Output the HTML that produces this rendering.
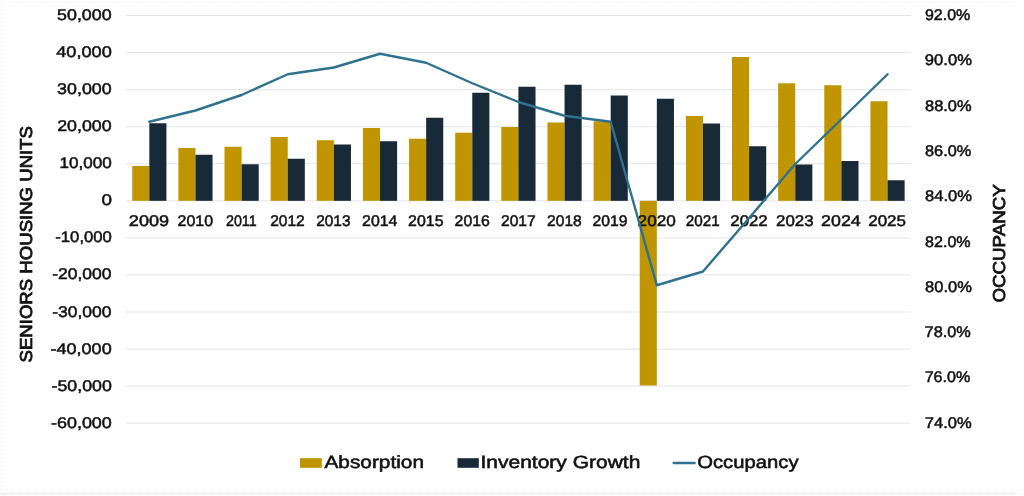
<!DOCTYPE html>
<html lang="en"><head><meta charset="utf-8"><title>Seniors Housing Units and Occupancy</title>
<style>
html,body{margin:0;padding:0;background:#fff;}
body{width:1024px;height:496px;overflow:hidden;}
svg{display:block;}
text{font-family:"Liberation Sans",sans-serif;fill:#111111;stroke:#111111;text-rendering:geometricPrecision;}
</style></head><body>
<svg width="1024" height="496" viewBox="0 0 1024 496">
<rect x="0" y="0" width="1024" height="496" fill="#ffffff"/>
<g fill="none" stroke-width="1">
<line x1="1.5" y1="1" x2="1.5" y2="493" stroke="#f0f0f0" stroke-dasharray="2 2"/>
<line x1="1" y1="493.5" x2="1021" y2="493.5" stroke="#dddddd" stroke-dasharray="1 1"/>
<line x1="1" y1="1.5" x2="1021" y2="1.5" stroke="#f5f5f5" stroke-dasharray="1.5 1.5"/>
</g>
<g stroke="#e5e5e5" stroke-width="1">
<line x1="126.25" y1="15.50" x2="910.60" y2="15.50"/>
<line x1="126.25" y1="52.56" x2="910.60" y2="52.56"/>
<line x1="126.25" y1="89.63" x2="910.60" y2="89.63"/>
<line x1="126.25" y1="126.69" x2="910.60" y2="126.69"/>
<line x1="126.25" y1="163.75" x2="910.60" y2="163.75"/>
<line x1="126.25" y1="200.82" x2="910.60" y2="200.82"/>
<line x1="126.25" y1="237.88" x2="910.60" y2="237.88"/>
<line x1="126.25" y1="274.95" x2="910.60" y2="274.95"/>
<line x1="126.25" y1="312.01" x2="910.60" y2="312.01"/>
<line x1="126.25" y1="349.07" x2="910.60" y2="349.07"/>
<line x1="126.25" y1="386.14" x2="910.60" y2="386.14"/>
<line x1="126.25" y1="423.20" x2="910.60" y2="423.20"/>
</g>
<g>
<rect x="132.22" y="166.00" width="17.10" height="34.82" fill="#C19500"/>
<rect x="149.32" y="123.25" width="17.10" height="77.57" fill="#182938"/>
<rect x="178.36" y="148.00" width="17.10" height="52.82" fill="#C19500"/>
<rect x="195.46" y="154.75" width="17.10" height="46.07" fill="#182938"/>
<rect x="224.50" y="146.75" width="17.10" height="54.07" fill="#C19500"/>
<rect x="241.60" y="164.25" width="17.10" height="36.57" fill="#182938"/>
<rect x="270.63" y="137.00" width="17.10" height="63.82" fill="#C19500"/>
<rect x="287.73" y="158.75" width="17.10" height="42.07" fill="#182938"/>
<rect x="316.77" y="140.25" width="17.10" height="60.57" fill="#C19500"/>
<rect x="333.87" y="144.50" width="17.10" height="56.32" fill="#182938"/>
<rect x="362.91" y="128.00" width="17.10" height="72.82" fill="#C19500"/>
<rect x="380.01" y="141.25" width="17.10" height="59.57" fill="#182938"/>
<rect x="409.05" y="138.75" width="17.10" height="62.07" fill="#C19500"/>
<rect x="426.15" y="117.75" width="17.10" height="83.07" fill="#182938"/>
<rect x="455.19" y="132.75" width="17.10" height="68.07" fill="#C19500"/>
<rect x="472.29" y="92.75" width="17.10" height="108.07" fill="#182938"/>
<rect x="501.32" y="127.00" width="17.10" height="73.82" fill="#C19500"/>
<rect x="518.42" y="86.75" width="17.10" height="114.07" fill="#182938"/>
<rect x="547.46" y="122.50" width="17.10" height="78.32" fill="#C19500"/>
<rect x="564.56" y="84.75" width="17.10" height="116.07" fill="#182938"/>
<rect x="593.60" y="121.25" width="17.10" height="79.57" fill="#C19500"/>
<rect x="610.70" y="95.50" width="17.10" height="105.32" fill="#182938"/>
<rect x="639.74" y="200.82" width="17.10" height="184.68" fill="#C19500"/>
<rect x="656.84" y="98.75" width="17.10" height="102.07" fill="#182938"/>
<rect x="685.88" y="116.00" width="17.10" height="84.82" fill="#C19500"/>
<rect x="702.98" y="123.50" width="17.10" height="77.32" fill="#182938"/>
<rect x="732.02" y="57.00" width="17.10" height="143.82" fill="#C19500"/>
<rect x="749.12" y="146.25" width="17.10" height="54.57" fill="#182938"/>
<rect x="778.15" y="83.25" width="17.10" height="117.57" fill="#C19500"/>
<rect x="795.25" y="164.50" width="17.10" height="36.32" fill="#182938"/>
<rect x="824.29" y="85.25" width="17.10" height="115.57" fill="#C19500"/>
<rect x="841.39" y="161.00" width="17.10" height="39.82" fill="#182938"/>
<rect x="870.43" y="101.25" width="17.10" height="99.57" fill="#C19500"/>
<rect x="887.53" y="180.25" width="17.10" height="20.57" fill="#182938"/>
</g>
<g>
<text x="57.07" y="20.00" font-size="15.4" stroke-width="0.5" textLength="54.52" lengthAdjust="spacingAndGlyphs">50,000</text>
<text x="56.18" y="57.06" font-size="15.4" stroke-width="0.5" textLength="55.64" lengthAdjust="spacingAndGlyphs">40,000</text>
<text x="57.13" y="94.13" font-size="15.4" stroke-width="0.5" textLength="54.49" lengthAdjust="spacingAndGlyphs">30,000</text>
<text x="57.15" y="131.19" font-size="15.4" stroke-width="0.5" textLength="54.48" lengthAdjust="spacingAndGlyphs">20,000</text>
<text x="59.44" y="168.25" font-size="15.4" stroke-width="0.5" textLength="52.27" lengthAdjust="spacingAndGlyphs">10,000</text>
<text x="101.41" y="205.32" font-size="15.4" stroke-width="0.5" textLength="10.50" lengthAdjust="spacingAndGlyphs">0</text>
<text x="55.26" y="242.38" font-size="15.4" stroke-width="0.5" textLength="56.64" lengthAdjust="spacingAndGlyphs">-10,000</text>
<text x="52.15" y="279.45" font-size="15.4" stroke-width="0.5" textLength="59.38" lengthAdjust="spacingAndGlyphs">-20,000</text>
<text x="52.15" y="316.51" font-size="15.4" stroke-width="0.5" textLength="59.38" lengthAdjust="spacingAndGlyphs">-30,000</text>
<text x="50.54" y="353.57" font-size="15.4" stroke-width="0.5" textLength="61.14" lengthAdjust="spacingAndGlyphs">-40,000</text>
<text x="51.56" y="390.64" font-size="15.4" stroke-width="0.5" textLength="60.25" lengthAdjust="spacingAndGlyphs">-50,000</text>
<text x="50.98" y="427.70" font-size="15.4" stroke-width="0.5" textLength="60.85" lengthAdjust="spacingAndGlyphs">-60,000</text>
<text x="924.94" y="20.00" font-size="15.4" stroke-width="0.5" textLength="45.31" lengthAdjust="spacingAndGlyphs">92.0%</text>
<text x="924.88" y="65.30" font-size="15.4" stroke-width="0.5" textLength="46.99" lengthAdjust="spacingAndGlyphs">90.0%</text>
<text x="925.03" y="110.60" font-size="15.4" stroke-width="0.5" textLength="46.56" lengthAdjust="spacingAndGlyphs">88.0%</text>
<text x="925.06" y="155.90" font-size="15.4" stroke-width="0.5" textLength="46.20" lengthAdjust="spacingAndGlyphs">86.0%</text>
<text x="925.01" y="201.20" font-size="15.4" stroke-width="0.5" textLength="46.86" lengthAdjust="spacingAndGlyphs">84.0%</text>
<text x="925.04" y="246.50" font-size="15.4" stroke-width="0.5" textLength="45.60" lengthAdjust="spacingAndGlyphs">82.0%</text>
<text x="925.01" y="291.80" font-size="15.4" stroke-width="0.5" textLength="46.86" lengthAdjust="spacingAndGlyphs">80.0%</text>
<text x="924.64" y="337.10" font-size="15.4" stroke-width="0.5" textLength="46.15" lengthAdjust="spacingAndGlyphs">78.0%</text>
<text x="924.65" y="382.40" font-size="15.4" stroke-width="0.5" textLength="45.61" lengthAdjust="spacingAndGlyphs">76.0%</text>
<text x="924.79" y="427.70" font-size="15.4" stroke-width="0.5" textLength="46.90" lengthAdjust="spacingAndGlyphs">74.0%</text>
<text x="128.89" y="226.00" font-size="15.4" stroke-width="0.5" textLength="40.31" lengthAdjust="spacingAndGlyphs">2009</text>
<text x="177.56" y="226.00" font-size="15.4" stroke-width="0.5" textLength="35.51" lengthAdjust="spacingAndGlyphs">2010</text>
<text x="225.99" y="226.00" font-size="15.4" stroke-width="0.5" textLength="30.68" lengthAdjust="spacingAndGlyphs">2011</text>
<text x="270.16" y="226.00" font-size="15.4" stroke-width="0.5" textLength="34.63" lengthAdjust="spacingAndGlyphs">2012</text>
<text x="316.19" y="226.00" font-size="15.4" stroke-width="0.5" textLength="34.32" lengthAdjust="spacingAndGlyphs">2013</text>
<text x="362.08" y="226.00" font-size="15.4" stroke-width="0.5" textLength="35.40" lengthAdjust="spacingAndGlyphs">2014</text>
<text x="408.14" y="226.00" font-size="15.4" stroke-width="0.5" textLength="35.35" lengthAdjust="spacingAndGlyphs">2015</text>
<text x="454.59" y="226.00" font-size="15.4" stroke-width="0.5" textLength="35.25" lengthAdjust="spacingAndGlyphs">2016</text>
<text x="501.00" y="226.00" font-size="15.4" stroke-width="0.5" textLength="34.68" lengthAdjust="spacingAndGlyphs">2017</text>
<text x="547.10" y="226.00" font-size="15.4" stroke-width="0.5" textLength="34.62" lengthAdjust="spacingAndGlyphs">2018</text>
<text x="592.59" y="226.00" font-size="15.4" stroke-width="0.5" textLength="34.86" lengthAdjust="spacingAndGlyphs">2019</text>
<text x="637.58" y="226.00" font-size="15.4" stroke-width="0.5" textLength="38.23" lengthAdjust="spacingAndGlyphs">2020</text>
<text x="685.85" y="226.00" font-size="15.4" stroke-width="0.5" textLength="33.93" lengthAdjust="spacingAndGlyphs">2021</text>
<text x="730.27" y="226.00" font-size="15.4" stroke-width="0.5" textLength="37.47" lengthAdjust="spacingAndGlyphs">2022</text>
<text x="776.10" y="226.00" font-size="15.4" stroke-width="0.5" textLength="37.56" lengthAdjust="spacingAndGlyphs">2023</text>
<text x="821.14" y="226.00" font-size="15.4" stroke-width="0.5" textLength="39.64" lengthAdjust="spacingAndGlyphs">2024</text>
<text x="868.23" y="226.00" font-size="15.4" stroke-width="0.5" textLength="37.80" lengthAdjust="spacingAndGlyphs">2025</text>
<text x="324.49" y="468.00" font-size="17.7" stroke-width="0.55" textLength="99.47" lengthAdjust="spacingAndGlyphs">Absorption</text>
<text x="480.51" y="468.00" font-size="17.7" stroke-width="0.55" textLength="159.82" lengthAdjust="spacingAndGlyphs">Inventory Growth</text>
<text x="697.22" y="468.00" font-size="17.7" stroke-width="0.55" textLength="101.29" lengthAdjust="spacingAndGlyphs">Occupancy</text>
</g>
<polyline points="149.32,121.75 195.46,110.50 241.60,95.00 287.73,74.25 333.87,67.50 380.01,53.75 426.15,62.75 472.29,83.25 518.42,102.00 564.56,115.75 610.70,121.75 656.84,285.25 702.98,271.50 749.12,218.00 795.25,164.00 841.39,119.25 887.53,74.25" fill="none" stroke="#2E7190" stroke-width="2.4" stroke-linejoin="round" stroke-linecap="round"/>
<text transform="translate(31.60 362.00) rotate(-90)" x="-0.47" y="0" font-size="17.3" stroke-width="0.8" textLength="236.45" lengthAdjust="spacingAndGlyphs">SENIORS HOUSING UNITS</text>
<text transform="translate(1005.10 302.20) rotate(-90)" x="-0.41" y="0" font-size="17.3" stroke-width="0.8" textLength="118.42" lengthAdjust="spacingAndGlyphs">OCCUPANCY</text>
<rect x="300" y="458.2" width="21.8" height="9.6" fill="#C19500"/>
<rect x="457.5" y="458.2" width="21.3" height="9.6" fill="#182938"/>
<line x1="673.7" y1="463" x2="694.6" y2="463" stroke="#2E7190" stroke-width="2.4" stroke-linecap="round"/>
</svg>
</body></html>
